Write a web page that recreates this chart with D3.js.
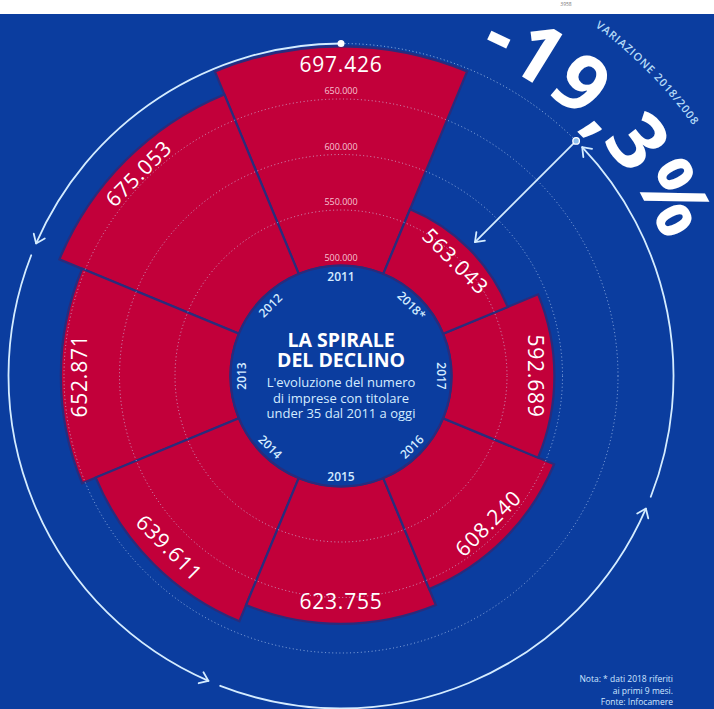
<!DOCTYPE html>
<html lang="it">
<head>
<meta charset="UTF-8">
<title>La spirale del declino</title>
<script src="https://cdnjs.cloudflare.com/ajax/libs/d3/7.8.5/d3.min.js"></script>
<style>
  body { margin: 0; background: #fff; }
  svg { display: block; font-family: "Open Sans", sans-serif; }
</style>
</head>
<body>
<div id="chart"></div>
<script>
// dati: imprese con titolare under 35
const years = ["2011", "2012", "2013", "2014", "2015", "2016", "2017", "2018*"];
const imprese = [697426, 675053, 652871, 639611, 623755, 608240, 592689, 563043];
const tickValues = [500000, 550000, 600000, 650000];
const variazione = "-19,3%";

const width = 714, height = 709;
const cx = 341, cy = 376;
const blue = "#0b3d9f", red = "#c2003a", navy = "#2a2c7c", light = "#d4ecff";

const it = d3.formatLocale({ decimal: ",", thousands: ".", grouping: [3], currency: ["€", ""] });
const fmt = it.format(",");

const svg = d3.select("#chart").append("svg")
    .attr("width", width)
    .attr("height", height);

svg.append("rect").attr("x", 0).attr("y", 14).attr("width", width).attr("height", height - 14).attr("fill", blue);
svg.append("text").attr("x", 566).attr("y", 6).attr("font-size", 5).attr("fill", "#777")
    .attr("text-anchor", "middle").text("3958");

const r = d3.scaleLinear().domain([500000, 700000]).range([110.5, 332.5]);
const angle = d3.scaleLinear().domain([0, years.length]).range([0, -2 * Math.PI]);
const step = 2 * Math.PI / years.length;
const toDeg = a => ((a * 180 / Math.PI) % 360 + 360) % 360;

const data = years.map((y, i) => ({ year: y, value: imprese[i], a: angle(i) }));

const g = svg.append("g").attr("transform", `translate(${cx},${cy})`);

// barre
const arc = d3.arc()
    .innerRadius(r(500000))
    .outerRadius(d => r(d.value))
    .startAngle(d => d.a - step / 2)
    .endAngle(d => d.a + step / 2);

g.selectAll("path.bar")
    .data(data)
    .join("path")
    .attr("class", "bar")
    .attr("d", arc)
    .attr("fill", red)
    .attr("stroke", navy)
    .attr("stroke-width", 2.2)
    .attr("stroke-linejoin", "miter");

// cerchi della griglia
g.selectAll("circle.grid")
    .data(tickValues.slice(1))
    .join("circle")
    .attr("class", "grid")
    .attr("r", d => r(d))
    .attr("fill", "none")
    .attr("stroke", "#cfe3ff")
    .attr("stroke-opacity", 0.65)
    .attr("stroke-width", 1)
    .attr("stroke-dasharray", "1,2.6");

g.selectAll("text.tick")
    .data(tickValues)
    .join("text")
    .attr("class", "tick")
    .attr("y", d => -r(d) - 5)
    .attr("text-anchor", "middle")
    .attr("font-size", 9)
    .attr("fill", "#f6c3d2")
    .text(d => fmt(d));

// cerchio centrale
g.append("circle")
    .attr("r", r(500000))
    .attr("fill", blue)
    .attr("stroke", navy)
    .attr("stroke-width", 2.2);

// anni
const isFlip = a => { const d = toDeg(a); return d > 90.5 && d < 269.5; };
g.selectAll("text.year")
    .data(data)
    .join("text")
    .attr("class", "year")
    .attr("transform", d => `rotate(${toDeg(d.a)}) translate(0,${-100}) rotate(${isFlip(d.a) ? 180 : 0})`)
    .attr("text-anchor", "middle")
    .attr("dominant-baseline", "central")
    .attr("font-size", 12)
    .attr("font-weight", 600)
    .attr("fill", light)
    .text(d => d.year);

// valori
g.selectAll("text.value")
    .data(data)
    .join("text")
    .attr("class", "value")
    .attr("transform", d => {
        const rr = r(d.value) - (isFlip(d.a) ? 23 : 18);
        return `rotate(${toDeg(d.a)}) translate(0,${-rr}) rotate(${isFlip(d.a) ? 180 : 0})`;
    })
    .attr("text-anchor", "middle")
    .attr("dominant-baseline", "central")
    .attr("font-size", 21)
    .attr("letter-spacing", 0.8)
    .attr("fill", "#fff")
    .text(d => fmt(d.value));

// titolo
const title = g.append("g").attr("text-anchor", "middle");
title.selectAll("text.t")
    .data(["LA SPIRALE", "DEL DECLINO"])
    .join("text")
    .attr("class", "t")
    .attr("y", (d, i) => -29 + i * 20)
    .attr("font-size", 19.5)
    .attr("font-weight", 700)
    .attr("fill", "#fff")
    .text(d => d);
title.selectAll("text.s")
    .data(["L'evoluzione del numero", "di imprese con titolare", "under 35 dal 2011 a oggi"])
    .join("text")
    .attr("class", "s")
    .attr("y", (d, i) => 11 + i * 15.5)
    .attr("font-size", 13)
    .attr("fill", light)
    .text(d => d);

// spirale esterna con frecce
const R = r(700000);
const deg = Math.PI / 180;
const pt = (t, rad) => [rad * Math.sin(t), -rad * Math.cos(t)];
const arcPath = (t0, t1, rad, ccw) => {
    const p = d3.path();
    const s = pt(t0, rad);
    p.moveTo(s[0], s[1]);
    p.arc(0, 0, rad, t0 - Math.PI / 2, t1 - Math.PI / 2, ccw);
    return p.toString();
};
const chevron = (tip, u, len, w) => {
    const n = [-u[1], u[0]];
    const a = [tip[0] - len * u[0] + w * n[0], tip[1] - len * u[1] + w * n[1]];
    const b = [tip[0] - len * u[0] - w * n[0], tip[1] - len * u[1] - w * n[1]];
    return `M${a}L${tip}L${b}`;
};

const arrowAngles = [293.5, 203.5, 113.5, 46.5];
const gap = 2.2;
let from = 360;
const spiral = g.append("g").attr("fill", "none").attr("stroke", light).attr("stroke-width", 1.8)
    .attr("stroke-linecap", "round").attr("stroke-linejoin", "round");
arrowAngles.forEach(t => {
    spiral.append("path").attr("d", arcPath(from * deg, t * deg, R, true));
    const tip = pt(t * deg, R);
    const u = [-Math.cos(t * deg), -Math.sin(t * deg)];
    spiral.append("path").attr("d", chevron(tip, u, 8, 6));
    from = t - gap;
});

g.append("path")
    .attr("d", arcPath(0, 45 * deg, R, false))
    .attr("fill", "none")
    .attr("stroke", light)
    .attr("stroke-opacity", 0.7)
    .attr("stroke-width", 1)
    .attr("stroke-dasharray", "1,2.6");

// freccia verso il 2018
const a18 = data[data.length - 1];
const t18 = toDeg(a18.a) * deg;
const start = pt(t18, R), end = pt(t18, r(a18.value) + 9);
spiral.append("path").attr("d", `M${start}L${end}`);
spiral.append("path").attr("d", chevron(end, [-Math.sin(t18), Math.cos(t18)], 8, 6));

g.append("circle").attr("cx", 0).attr("cy", -R).attr("r", 3.5).attr("fill", "#fff");
g.append("circle").attr("cx", start[0]).attr("cy", start[1]).attr("r", 3.3)
    .attr("fill", "#8fc0ee").attr("stroke", "#fff").attr("stroke-width", 1.3);

// testo su arco
const defs = svg.append("defs");
defs.append("path").attr("id", "bigArc")
    .attr("d", arcPath(0, 100 * deg, 350, false))
    .attr("transform", `translate(${cx},${cy})`);
defs.append("path").attr("id", "smallArc")
    .attr("d", arcPath(0, 100 * deg, 432, false))
    .attr("transform", `translate(${cx},${cy})`);

svg.append("text")
    .attr("font-size", 80)
    .attr("font-weight", 700)
    .attr("letter-spacing", 3)
    .attr("fill", "#fff")
    .append("textPath")
    .attr("href", "#bigArc")
    .attr("startOffset", 23 * deg * 350)
    .text(variazione);

svg.append("text")
    .attr("font-size", 11)
    .attr("font-weight", 600)
    .attr("letter-spacing", 0.9)
    .attr("fill", "#b4daf7")
    .append("textPath")
    .attr("href", "#smallArc")
    .attr("startOffset", 36 * deg * 432)
    .text("VARIAZIONE 2018/2008");

// nota
svg.append("g")
    .attr("text-anchor", "end")
    .attr("font-size", 8.5)
    .attr("fill", "#cfe6ff")
    .selectAll("text")
    .data(["Nota: * dati 2018 riferiti", "ai primi 9 mesi.", "Fonte: Infocamere"])
    .join("text")
    .attr("x", 673)
    .attr("y", (d, i) => 682 + i * 11.5)
    .text(d => d);
</script>
</body>
</html>
